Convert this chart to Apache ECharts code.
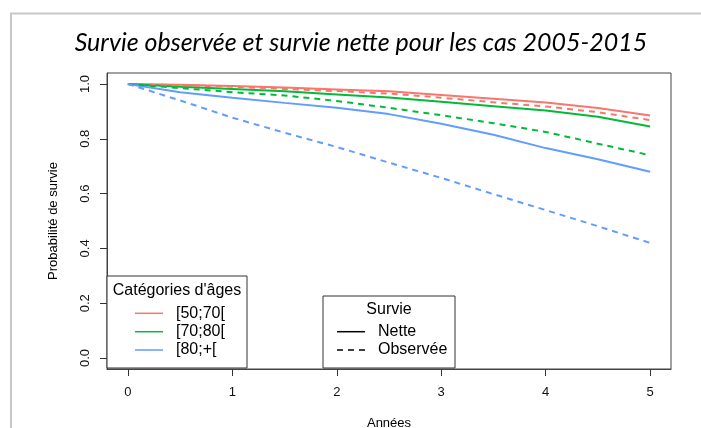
<!DOCTYPE html>
<html>
<head>
<meta charset="utf-8">
<script src="https://cdn.jsdelivr.net/npm/echarts@6/dist/echarts.min.js"></script>
<style>
  html, body { margin: 0; padding: 0; background: #fff; }
  #chart { width: 701px; height: 428px; }
</style>
</head>
<body>
<div id="chart"></div>
<script>
// Time since diagnosis (years)
const years = [0, 0.5, 1, 1.5, 2, 2.5, 3, 3.5, 4, 4.5, 5];

// Net survival by age group
const net_50_70 = [1.000, 0.997, 0.993, 0.987, 0.980, 0.973, 0.960, 0.946, 0.932, 0.912, 0.885];
const net_70_80 = [1.000, 0.990, 0.982, 0.973, 0.962, 0.951, 0.935, 0.919, 0.903, 0.880, 0.845];
const net_80_plus = [1.000, 0.970, 0.950, 0.931, 0.913, 0.890, 0.855, 0.815, 0.766, 0.725, 0.680];

// Observed survival by age group
const obs_50_70 = [1.000, 0.995, 0.990, 0.982, 0.974, 0.965, 0.950, 0.933, 0.918, 0.897, 0.868];
const obs_70_80 = [1.000, 0.985, 0.970, 0.958, 0.938, 0.913, 0.886, 0.857, 0.825, 0.782, 0.740];
const obs_80_plus = [1.000, 0.940, 0.877, 0.822, 0.770, 0.713, 0.657, 0.598, 0.540, 0.481, 0.420];

// Tick labels
const xTicks = [0, 1, 2, 3, 4, 5];
const yTicks = [0, 0.2, 0.4, 0.6, 0.8, 1.0];

// Legend texts
const ageGroups = ['[50;70[', '[70;80[', '[80;+['];
const survivalTypes = ['Nette', 'Observée'];

const colors = ['#F8766D', '#00BA38', '#619CFF'];
const dash = [6, 5];
const rFont = '"Liberation Sans", Arial, sans-serif';

function pairs(vals) { return years.map((t, i) => [t, vals[i]]); }

function curve(name, vals, color, dashed) {
  return {
    name: name,
    type: 'line',
    data: pairs(vals),
    showSymbol: false,
    symbol: 'none',
    smooth: false,
    lineStyle: { color: color, width: 2, type: dashed ? dash : 'solid' },
    emphasis: { disabled: true },
    silent: true
  };
}

const chart = echarts.init(document.getElementById('chart'), null, { renderer: 'canvas' });

// Legend boxes, drawn on top of the plot
const G1 = { x: 107, y: 276, w: 140, h: 92 };
const G2 = { x: 323, y: 296, w: 132, h: 72 };
const rowY1 = [313.3, 331.7, 350];
const rowY2 = [331.7, 350];

const graphics = [
  // outer frame
  { type: 'line', shape: { x1: 11, y1: 13, x2: 11, y2: 428 }, style: { stroke: '#c8c8c8', lineWidth: 2 } },
  { type: 'line', shape: { x1: 10, y1: 13.5, x2: 701, y2: 13.5 }, style: { stroke: '#c8c8c8', lineWidth: 2 } },
  // title
  { type: 'text', x: 361, y: 43, style: { text: 'Survie observée et survie nette pour les cas 2005-2015',
      font: 'italic 25px Lato, "Open Sans", sans-serif', fill: '#000', textAlign: 'center', textVerticalAlign: 'middle' } },
  // age group legend
  { type: 'rect', z: 100, shape: { x: G1.x, y: G1.y, width: G1.w, height: G1.h }, style: { fill: '#fff', stroke: '#333', lineWidth: 1 } },
  { type: 'text', z: 101, x: G1.x + G1.w / 2, y: 290.7, style: { text: "Catégories d'âges", font: '16px ' + rFont, fill: '#000', textAlign: 'center', textVerticalAlign: 'middle' } },
  // survival type legend
  { type: 'rect', z: 100, shape: { x: G2.x, y: G2.y, width: G2.w, height: G2.h }, style: { fill: '#fff', stroke: '#333', lineWidth: 1 } },
  { type: 'text', z: 101, x: G2.x + G2.w / 2, y: 309.3, style: { text: 'Survie', font: '16px ' + rFont, fill: '#000', textAlign: 'center', textVerticalAlign: 'middle' } }
];

ageGroups.forEach((label, i) => {
  graphics.push({ type: 'line', z: 101, shape: { x1: 135, y1: rowY1[i], x2: 163, y2: rowY1[i] }, style: { stroke: colors[i], lineWidth: 1.5 } });
  graphics.push({ type: 'text', z: 101, x: 176, y: rowY1[i], style: { text: label, font: '16px ' + rFont, fill: '#000', textAlign: 'left', textVerticalAlign: 'middle' } });
});
survivalTypes.forEach((label, i) => {
  graphics.push({ type: 'line', z: 101, shape: { x1: 337, y1: rowY2[i], x2: 365, y2: rowY2[i] }, style: { stroke: '#000', lineWidth: 1.5, lineDash: i === 1 ? dash : null } });
  graphics.push({ type: 'text', z: 101, x: 378, y: rowY2[i], style: { text: label, font: '16px ' + rFont, fill: '#000', textAlign: 'left', textVerticalAlign: 'middle' } });
});

chart.setOption({
  animation: false,
  backgroundColor: '#fff',
  grid: { left: 107, top: 73, width: 564, height: 296, outerBoundsMode: 'none', containLabel: false,
          show: true, borderColor: '#444', borderWidth: 1, backgroundColor: 'transparent' },
  xAxis: {
    type: 'value', min: -0.2, max: 5.2,
    name: 'Années', nameLocation: 'middle', nameGap: 48,
    nameTextStyle: { fontFamily: rFont, fontSize: 13, color: '#000' },
    axisLine: { show: true, onZero: false, lineStyle: { color: '#444', width: 1 } },
    axisTick: { show: true, length: 7, inside: false, customValues: xTicks, lineStyle: { color: '#333' } },
    axisLabel: { customValues: xTicks, margin: 17, fontFamily: rFont, fontSize: 13, color: '#111', formatter: v => String(v) },
    splitLine: { show: false }
  },
  yAxis: {
    type: 'value', min: -0.04, max: 1.04,
    name: 'Probabilité de survie', nameLocation: 'middle', nameGap: 47, nameRotate: 90,
    nameTextStyle: { fontFamily: rFont, fontSize: 13, color: '#000' },
    axisLine: { show: true, onZero: false, lineStyle: { color: '#444', width: 1 } },
    axisTick: { show: true, length: 7, inside: false, customValues: yTicks, lineStyle: { color: '#333' } },
    axisLabel: { customValues: yTicks, rotate: 90, margin: 15, fontFamily: rFont, fontSize: 13, color: '#111', formatter: v => v.toFixed(1) },
    splitLine: { show: false }
  },
  series: [
    curve('Nette [50;70[', net_50_70, colors[0], false),
    curve('Nette [70;80[', net_70_80, colors[1], false),
    curve('Nette [80;+[', net_80_plus, colors[2], false),
    curve('Observée [50;70[', obs_50_70, colors[0], true),
    curve('Observée [70;80[', obs_70_80, colors[1], true),
    curve('Observée [80;+[', obs_80_plus, colors[2], true)
  ],
  graphic: graphics
});
</script>
</body>
</html>
